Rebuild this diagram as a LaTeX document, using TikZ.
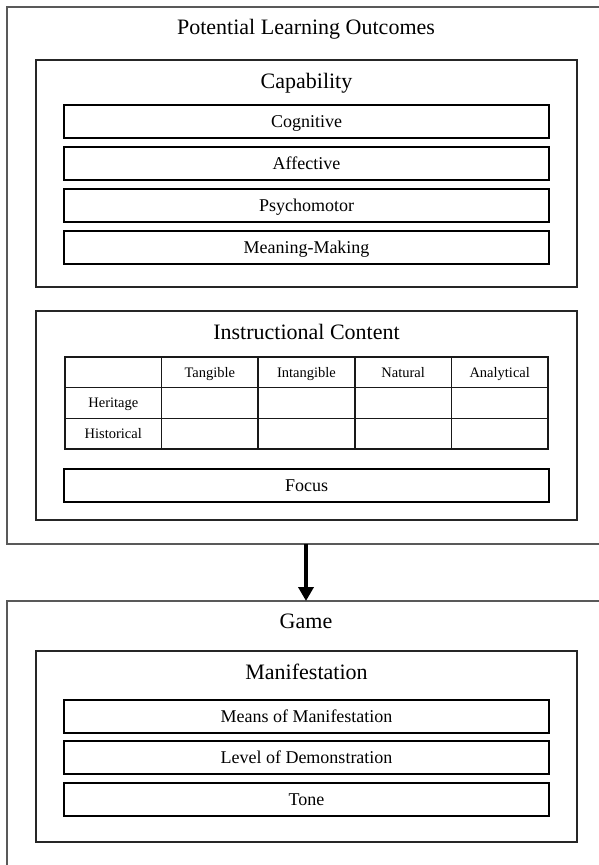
\documentclass[tikz,border=0pt]{standalone}
\usepackage{fontspec}
\setmainfont{Liberation Serif}
\usetikzlibrary{arrows.meta}
\tikzset{
  outerline/.style={draw=black!65, line width=1.4pt},
  groupbox/.style={draw=black!85, line width=1.5pt, rectangle, inner sep=0pt},
  itembox/.style={draw=black, line width=2pt, rectangle, inner sep=0pt,
    minimum width=485pt, minimum height=33pt,
    font=\fontsize{18}{20}\selectfont, text height=12pt, text depth=0pt},
  cell/.style={draw=black!90, line width=1.5pt, rectangle, inner sep=0pt,
    minimum width=96.6pt, minimum height=30.7pt,
    font=\fontsize{14.5}{16}\selectfont, text height=9.6pt, text depth=0pt},
  titletext/.style={anchor=base, inner sep=0pt, font=\fontsize{22}{24}\selectfont},
  flowarrow/.style={line width=3.5pt, -{Triangle[width=15pt,length=14pt]}}
}
\begin{document}
\begin{tikzpicture}[x=1pt,y=-1pt]
\useasboundingbox (0,0) rectangle (599,865);
\fill[white] (0,0) rectangle (599,865);

% outer frames (cut off on the right and bottom)
\draw[outerline] (599,7) -- (7,7) -- (7,544) -- (599,544);
\draw[outerline] (599,601) -- (7,601) -- (7,865);

\node[titletext] (plo) at (306,34.3) {Potential Learning Outcomes};

% Capability
\node[groupbox, minimum width=541pt, minimum height=227pt] (capbox) at (306.5,173.5) {};
\node[titletext] (cap) at (306.5,88) {Capability};
\node[itembox] (cog) at (306.5,121.5) {Cognitive};
\node[itembox] (aff) at (306.5,163.5) {Affective};
\node[itembox] (psy) at (306.5,205.5) {Psychomotor};
\node[itembox] (mm)  at (306.5,247.5) {Meaning-Making};

% Instructional Content
\node[groupbox, minimum width=541pt, minimum height=209pt] (icbox) at (306.5,415.5) {};
\node[titletext] (ic) at (306.5,339) {Instructional Content};

\foreach \c/\lbl [count=\i from 0] in {0/{},1/Tangible,2/Intangible,3/Natural,4/Analytical}{
  \node[cell] (h0\i) at (65+48.3+\c*96.6,372.35) {\lbl};
}
\foreach \c/\lbl [count=\i from 0] in {0/Heritage,1/{},2/{},3/{},4/{}}{
  \node[cell] (h1\i) at (65+48.3+\c*96.6,403.05) {\lbl};
}
\foreach \c/\lbl [count=\i from 0] in {0/Historical,1/{},2/{},3/{},4/{}}{
  \node[cell] (h2\i) at (65+48.3+\c*96.6,433.75) {\lbl};
}

\node[itembox] (focus) at (306.5,485.5) {Focus};

% arrow
\coordinate (arrS) at (306,544);
\coordinate (arrE) at (306,601);
\draw[flowarrow] (arrS) -- (arrE);

% Game
\node[titletext] (game) at (306,628) {Game};
\node[groupbox, minimum width=541pt, minimum height=191pt] (manbox) at (306.5,746.5) {};
\node[titletext] (man) at (306.5,679) {Manifestation};
\node[itembox] (means) at (306.5,716) {Means of Manifestation};
\node[itembox] (level) at (306.5,757.5) {Level of Demonstration};
\node[itembox] (tone)  at (306.5,799.5) {Tone};
\end{tikzpicture}
\end{document}
